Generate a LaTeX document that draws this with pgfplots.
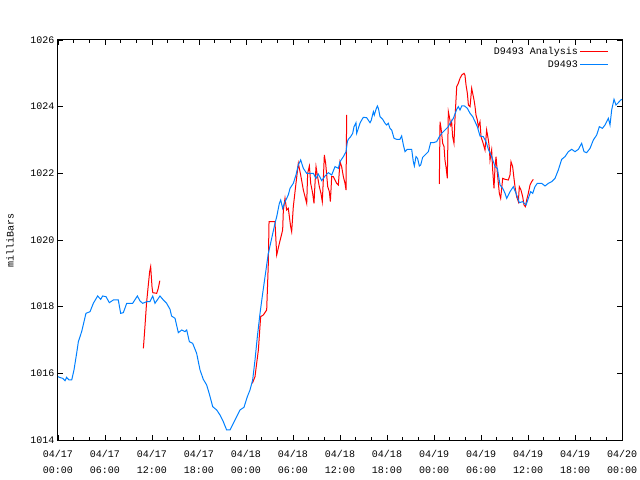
\documentclass[border=0pt]{standalone}
\usepackage{fontspec}
\setmainfont{Liberation Mono}
\usepackage{pgfplots}
\pgfplotsset{compat=1.18}
\definecolor{rred}{RGB}{255,0,0}
\definecolor{bblue}{RGB}{0,128,255}
\begin{document}
\begin{tikzpicture}
\begin{axis}[
  at={(0,0)}, anchor=south west,
  scale only axis, width=564bp, height=400bp,
  xmin=0, xmax=72, ymin=1014, ymax=1026,
  xtick={0,6,...,72},
  xticklabels={04/17\\00:00,04/17\\06:00,04/17\\12:00,04/17\\18:00,04/18\\00:00,04/18\\06:00,04/18\\12:00,04/18\\18:00,04/19\\00:00,04/19\\06:00,04/19\\12:00,04/19\\18:00,04/20\\00:00},
  xticklabel style={align=center, font=\fontsize{10bp}{16bp}\selectfont, yshift=-7bp},
  minor x tick num=2,
  ytick={1014,1016,...,1026},
  yticklabel style={font=\fontsize{10bp}{12bp}\selectfont},
  /pgf/number format/assume math mode=true,
  /pgf/number format/set thousands separator={},
  tick align=inside,
  major tick length=5bp, minor tick length=3bp,
  every tick/.style={black, line width=0.8bp},
  axis line style={line width=1bp},
  ylabel={milliBars},
  ylabel style={at={(axis description cs:-0.085,0.5)}, anchor=center, font=\fontsize{10bp}{12bp}\selectfont},
  unbounded coords=jump,
  legend style={at={(rel axis cs:1,1)}, anchor=north east, draw=none, fill=none,
    font=\fontsize{10bp}{12bp}\selectfont, xshift=-10bp, yshift=-3bp, row sep=1bp},
  legend cell align=right,
  legend plot pos=right,
  legend image code/.code={\draw[#1] (0bp,0bp) -- (28bp,0bp);},
]
\addplot[rred, line width=1bp] table {
x y
10.9 1016.75
11.1 1017.4
11.3 1018.1
11.55 1018.7
11.7 1019.05
11.83 1019.2
12.0 1018.6
12.1 1018.42
12.6 1018.4
12.8 1018.55
13.0 1018.78
13.01 nan
24.81 1015.7
25.15 1015.9
25.36 1016.3
25.58 1016.7
25.87 1017.7
26.21 1017.75
26.64 1017.9
26.85 1019.3
26.94 1020.55
27.7 1020.55
27.92 1019.55
28.26 1019.9
28.68 1020.3
28.77 1020.9
28.98 1021.25
29.19 1020.9
29.4 1020.95
29.7 1020.4
29.83 1020.25
30.04 1021.0
30.38 1021.7
30.68 1022.3
30.98 1021.95
31.32 1021.5
31.75 1021.1
31.87 1022.0
32.09 1022.22
32.26 1021.7
32.51 1021.4
32.68 1021.1
32.81 1021.7
32.94 1022.2
33.1 1021.95
33.36 1021.6
33.57 1021.4
33.74 1021.15
33.87 1021.8
34.0 1022.55
34.17 1022.3
34.43 1021.6
34.64 1021.45
34.77 1021.15
34.94 1021.9
35.15 1021.9
35.36 1021.8
35.57 1021.7
35.79 1021.65
36.0 1022.35
36.21 1022.2
36.43 1021.9
36.64 1021.7
36.77 1021.5
36.85 1023.75
36.86 nan
48.68 1021.68
48.77 1023.55
48.9 1023.35
49.11 1022.9
49.28 1022.8
49.4 1022.4
49.53 1022.2
49.7 1021.85
49.83 1023.85
49.96 1023.7
50.13 1023.45
50.25 1023.55
50.38 1023.1
50.55 1022.9
50.68 1023.65
50.9 1024.6
51.1 1024.7
51.32 1024.85
51.54 1024.95
51.83 1025.0
51.95 1024.95
52.09 1024.65
52.26 1024.4
52.39 1024.05
52.6 1024.0
52.81 1024.55
52.94 1024.4
53.11 1024.2
53.24 1024.0
53.36 1023.75
53.53 1023.6
53.66 1023.4
53.87 1023.55
54.0 1023.1
54.21 1022.95
54.51 1022.7
54.72 1023.3
54.94 1023.0
55.05 1022.8
55.15 1022.4
55.36 1022.7
55.49 1022.1
55.66 1021.55
55.79 1022.2
55.92 1022.5
56.09 1022.0
56.34 1021.4
56.51 1021.25
56.77 1021.85
57.07 1021.82
57.49 1021.8
57.7 1021.95
57.83 1022.35
58.04 1022.2
58.21 1021.85
58.34 1021.6
58.55 1021.3
58.77 1021.15
58.89 1021.6
59.1 1021.5
59.32 1021.3
59.49 1021.05
59.66 1021.0
59.83 1021.2
60.04 1021.4
60.26 1021.65
60.47 1021.75
60.68 1021.82
};
\addlegendentry{D9493 Analysis}
\addplot[bblue, line width=1bp] table {
x y
0.0 1015.9
0.17 1015.88
0.6 1015.85
0.9 1015.78
1.1 1015.88
1.4 1015.8
1.75 1015.8
2.04 1016.1
2.38 1016.6
2.6 1016.95
3.02 1017.25
3.57 1017.8
4.09 1017.85
4.51 1018.1
5.06 1018.32
5.45 1018.22
5.7 1018.32
6.13 1018.3
6.55 1018.12
7.06 1018.2
7.7 1018.2
8.0 1017.8
8.34 1017.82
8.77 1018.1
9.53 1018.1
10.13 1018.32
10.47 1018.17
10.81 1018.1
11.32 1018.15
11.74 1018.15
12.09 1018.32
12.38 1018.1
13.02 1018.32
13.45 1018.2
13.87 1018.1
14.3 1017.92
14.5 1017.72
14.94 1017.65
15.36 1017.22
15.79 1017.3
16.21 1017.25
16.43 1017.3
16.77 1016.95
17.19 1016.9
17.7 1016.6
18.13 1016.1
18.55 1015.82
18.98 1015.65
19.32 1015.38
19.75 1015.0
20.26 1014.9
20.68 1014.75
21.1 1014.55
21.53 1014.3
21.96 1014.3
22.38 1014.5
22.81 1014.7
23.23 1014.9
23.74 1014.98
24.17 1015.3
24.51 1015.5
24.85 1015.8
25.15 1016.4
25.45 1017.1
25.79 1017.8
26.13 1018.4
26.43 1018.9
26.85 1019.6
27.28 1020.05
27.7 1020.5
27.92 1020.7
28.26 1021.1
28.43 1021.2
28.68 1020.95
28.98 1021.15
29.4 1021.35
29.62 1021.55
30.04 1021.7
30.38 1021.95
30.68 1022.25
30.98 1022.4
31.32 1022.15
31.75 1022.0
32.17 1022.0
32.6 1022.0
32.94 1021.85
33.23 1021.98
33.66 1021.78
34.09 1021.92
34.51 1022.02
34.94 1021.95
35.36 1022.2
35.79 1022.15
36.0 1022.35
36.43 1022.5
36.77 1022.65
36.94 1022.95
37.06 1023.02
37.36 1023.1
37.62 1023.2
37.79 1023.4
38.04 1023.52
38.13 1023.2
38.34 1023.35
38.55 1023.5
38.77 1023.6
38.98 1023.68
39.4 1023.67
39.83 1023.52
40.0 1023.6
40.26 1023.85
40.38 1023.75
40.6 1023.92
40.77 1024.02
40.9 1023.95
41.11 1023.7
41.45 1023.62
41.75 1023.5
41.96 1023.45
42.17 1023.5
42.38 1023.35
42.6 1023.3
42.9 1023.05
43.23 1023.02
43.66 1023.02
43.87 1023.12
44.09 1022.85
44.3 1022.65
44.6 1022.72
45.15 1022.72
45.36 1022.35
45.49 1022.22
45.7 1022.5
45.9 1022.45
46.13 1022.22
46.3 1022.25
46.55 1022.48
46.85 1022.55
47.28 1022.65
47.57 1022.92
47.91 1022.92
48.34 1022.95
48.68 1023.1
48.98 1023.2
49.4 1023.3
49.83 1023.4
50.04 1023.5
50.47 1023.65
50.9 1023.92
51.1 1024.0
51.32 1023.9
51.54 1024.02
51.9 1024.02
52.26 1023.95
52.6 1023.8
52.94 1023.7
53.24 1023.55
53.53 1023.4
53.87 1023.12
54.3 1023.1
54.64 1022.95
54.94 1022.72
55.36 1022.5
55.79 1022.2
56.09 1022.15
56.43 1021.65
56.77 1021.55
57.07 1021.4
57.28 1021.25
57.7 1021.45
58.13 1021.6
58.55 1021.35
58.89 1021.12
59.32 1021.15
59.75 1021.05
60.04 1021.25
60.34 1021.45
60.6 1021.4
60.89 1021.6
61.19 1021.7
61.75 1021.7
62.17 1021.62
62.6 1021.7
63.02 1021.75
63.45 1021.85
63.87 1022.1
64.3 1022.42
64.72 1022.5
65.15 1022.65
65.58 1022.72
66.0 1022.65
66.43 1022.72
66.85 1022.9
67.15 1022.65
67.49 1022.62
67.92 1022.75
68.34 1023.0
68.77 1023.15
69.11 1023.4
69.5 1023.35
69.83 1023.45
70.26 1023.65
70.47 1023.45
70.68 1023.9
70.98 1024.22
71.23 1024.05
71.53 1024.12
71.83 1024.2
72.0 1024.22
};
\addlegendentry{D9493}
\node[font=\fontsize{10bp}{12bp}\selectfont] at (rel axis cs:0.5,1) [yshift=21bp] {Barometric Pressure for D9493 on 2024-Apr-17 (time in UTC)};
\end{axis}
\pgfresetboundingbox
\path[use as bounding box] (-58bp,-40bp) rectangle (582bp,440bp);
\end{tikzpicture}
\end{document}
